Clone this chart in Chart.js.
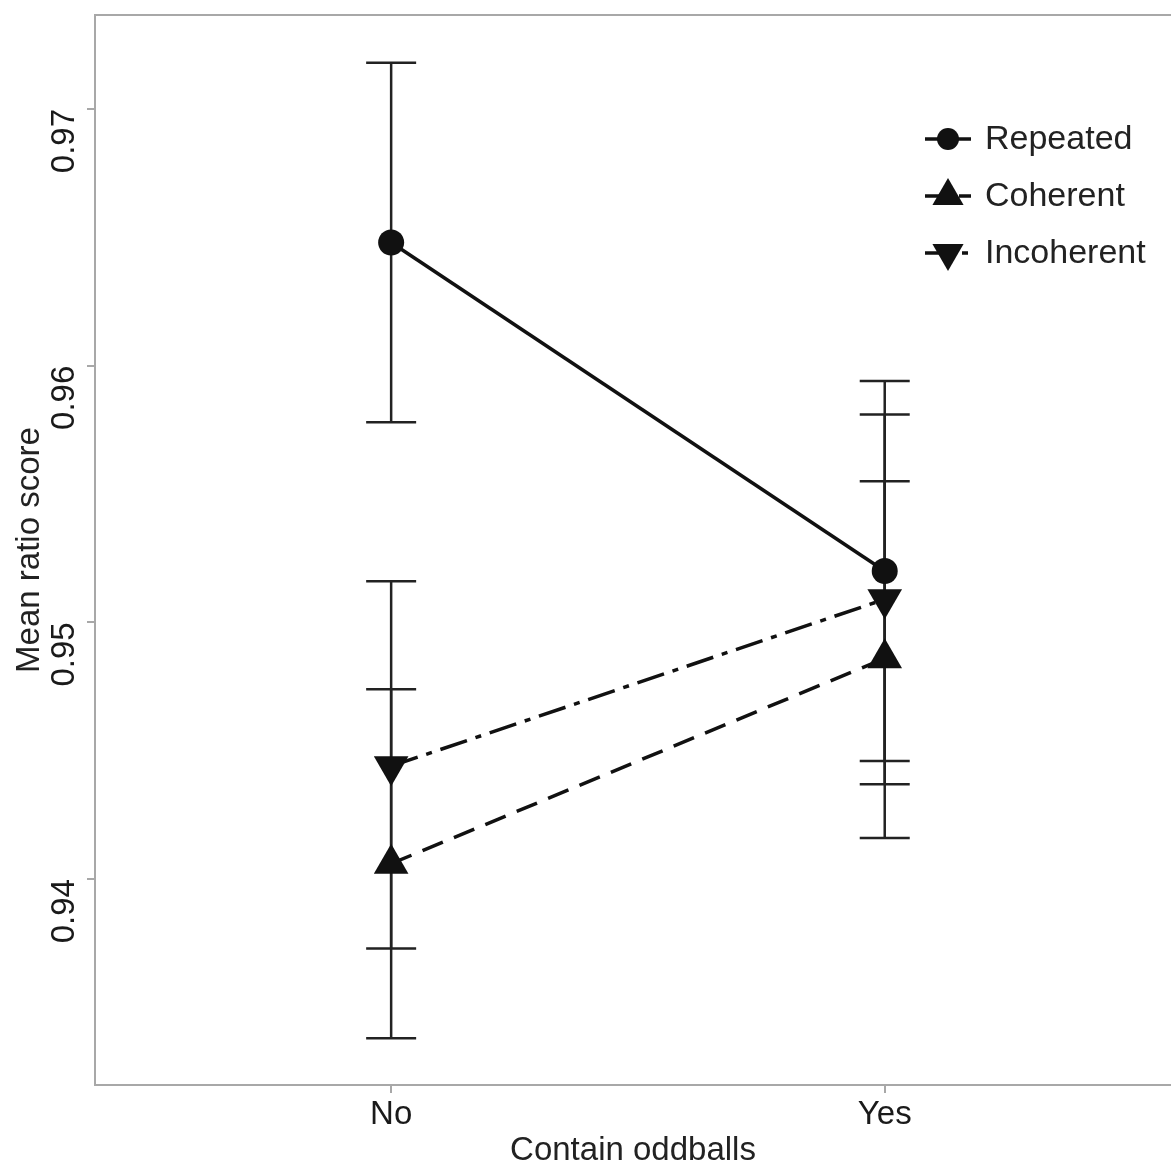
<!DOCTYPE html>
<html lang="en">
<head>
<meta charset="UTF-8">
<title>Mean ratio score</title>
<script src="https://cdn.jsdelivr.net/npm/chart.js"></script>
<style>
  html, body { margin: 0; padding: 0; background: #fff; overflow: hidden; }
  canvas { display: block; }
</style>
</head>
<body>
<canvas id="chart" width="1171" height="1171"></canvas>
<script>
// data
const categories = ['No', 'Yes'];
const catPos = [1, 2];
const yTicks = [0.94, 0.95, 0.96, 0.97];

const repeated   = [0.9648, 0.9520];
const repeatedLo = [0.9578, 0.9446];
const repeatedHi = [0.9718, 0.9594];

const coherent   = [0.9406, 0.9486];
const coherentLo = [0.9338, 0.9416];
const coherentHi = [0.9474, 0.9555];

const incoherent   = [0.9444, 0.9509];
const incoherentLo = [0.9373, 0.9437];
const incoherentHi = [0.9516, 0.9581];

const seriesNames = ['Repeated', 'Coherent', 'Incoherent'];

const INK = '#111';
const AXIS = '#a8a8a8';

Chart.defaults.font.family = "'Liberation Sans', Arial, sans-serif";
Chart.defaults.font.size = 33;
Chart.defaults.color = '#222';

function pts(vals) {
  return vals.map((v, i) => ({ x: catPos[i], y: v }));
}

const series = [
  { name: seriesNames[0], mean: repeated, lo: repeatedLo, hi: repeatedHi, style: 'circle', rot: 0, r: 13, dash: [] },
  { name: seriesNames[1], mean: coherent, lo: coherentLo, hi: coherentHi, style: 'triangle', rot: 0, r: 20, dash: [22, 12] },
  { name: seriesNames[2], mean: incoherent, lo: incoherentLo, hi: incoherentHi, style: 'triangle', rot: 180, r: 20, dash: [28, 9, 6, 9] }
];

// error bars behind the lines
const errorBars = {
  id: 'errorBars',
  beforeDatasetsDraw(chart) {
    const ctx = chart.ctx, xs = chart.scales.x, ys = chart.scales.y;
    ctx.save();
    ctx.strokeStyle = '#222';
    ctx.lineWidth = 2.5;
    series.forEach(s => {
      s.mean.forEach((m, i) => {
        const x = xs.getPixelForValue(catPos[i]);
        const yl = ys.getPixelForValue(s.lo[i]);
        const yh = ys.getPixelForValue(s.hi[i]);
        ctx.beginPath();
        ctx.moveTo(x, yl); ctx.lineTo(x, yh);
        ctx.moveTo(x - 25, yl); ctx.lineTo(x + 25, yl);
        ctx.moveTo(x - 25, yh); ctx.lineTo(x + 25, yh);
        ctx.stroke();
      });
    });
    ctx.restore();
  }
};

// top frame line + legend
const extras = {
  id: 'extras',
  afterDraw(chart) {
    const ctx = chart.ctx, a = chart.chartArea;
    ctx.save();
    ctx.strokeStyle = AXIS;
    ctx.lineWidth = 2;
    ctx.beginPath();
    ctx.moveTo(a.left, a.top); ctx.lineTo(a.right, a.top);
    ctx.stroke();

    const lx = 948, tx = 985;
    series.forEach((s, k) => {
      const y = 139 + k * 57;
      ctx.strokeStyle = INK;
      ctx.lineWidth = 3.5;
      ctx.setLineDash(s.dash);
      ctx.beginPath();
      ctx.moveTo(lx - 23, y); ctx.lineTo(lx + 23, y);
      ctx.stroke();
      ctx.setLineDash([]);
      ctx.fillStyle = INK;
      Chart.helpers.drawPoint(ctx, { pointStyle: s.style, rotation: s.rot, radius: s.r - 2, borderWidth: 0 }, lx, y);
      ctx.fillStyle = '#222';
      ctx.font = "34px 'Liberation Sans', Arial, sans-serif";
      ctx.textAlign = 'left';
      ctx.textBaseline = 'middle';
      ctx.fillText(s.name, tx, y + 1);
    });
    ctx.restore();
  }
};

function noPad(s) {
  s.paddingTop = 0; s.paddingBottom = 0; s.paddingLeft = 0; s.paddingRight = 0;
}

new Chart(document.getElementById('chart'), {
  type: 'line',
  data: {
    datasets: series.map(s => ({
      label: s.name,
      data: pts(s.mean),
      borderColor: INK,
      borderWidth: 3.5,
      borderDash: s.dash,
      pointStyle: s.style,
      rotation: s.rot,
      pointRadius: s.r,
      pointBackgroundColor: INK,
      pointBorderWidth: 0,
      fill: false,
      tension: 0
    }))
  },
  options: {
    responsive: false,
    animation: false,
    events: [],
    layout: { autoPadding: false, padding: { top: 15, right: 0, left: 0, bottom: 0 } },
    plugins: {
      legend: { display: false },
      tooltip: { enabled: false }
    },
    scales: {
      x: {
        type: 'linear',
        min: 0.4,
        max: 2.58,
        afterBuildTicks: s => { s.ticks = catPos.map(v => ({ value: v })); },
        afterFit: s => { s.height = 86; noPad(s); },
        grid: { drawOnChartArea: false, drawTicks: true, tickLength: 8, color: AXIS, lineWidth: 2 },
        border: { display: true, color: AXIS, width: 2 },
        ticks: {
          padding: 2,
          color: '#1a1a1a',
          callback: v => categories[catPos.indexOf(v)] || ''
        },
        title: { display: true, text: 'Contain oddballs', color: '#222', padding: 0 }
      },
      y: {
        min: 0.93198,
        max: 0.97366,
        afterBuildTicks: s => { s.ticks = yTicks.map(v => ({ value: v })); },
        afterFit: s => { s.width = 95; noPad(s); },
        grid: { drawOnChartArea: false, drawTicks: true, tickLength: 8, color: AXIS, lineWidth: 2 },
        border: { display: true, color: AXIS, width: 2 },
        ticks: {
          minRotation: 90,
          maxRotation: 90,
          padding: 22,
          color: '#1a1a1a',
          callback: v => v.toFixed(2)
        },
        title: { display: true, text: 'Mean ratio score', color: '#222', padding: { top: 10, bottom: 0 } }
      }
    }
  },
  plugins: [errorBars, extras]
});
</script>
</body>
</html>
